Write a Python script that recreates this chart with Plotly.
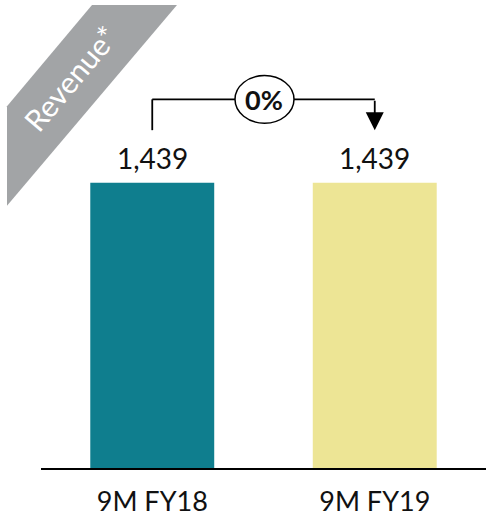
import plotly.graph_objects as go

categories = ["9M FY18", "9M FY19"]
values = [1439, 1439]
value_labels = ["1,439", "1,439"]
change_label = "0%"
badge = "Revenue*"
colors = ["#0F7E8E", "#EDE595"]

W, H = 486, 517
MB = 46
PH = H - MB  # plot height in px (top margin 0)
YMAX = values[0] * PH / 287.0

def py2v(py):
    return (PH - py) * YMAX / PH

def px2p(px):
    return px / W

def py2p(py):
    return (PH - py) / PH

fig = go.Figure()
fig.add_trace(go.Bar(x=categories, y=values, marker=dict(color=colors, line=dict(width=0)),
                     width=0.557, hoverinfo="skip"))

font = "Lato, 'Open Sans', sans-serif"
ann = []
for c, lab in zip(categories, value_labels):
    ann.append(dict(x=c, y=py2v(159), text=lab, showarrow=False, xref="x", yref="y",
                    font=dict(size=28, color="#111111", family=font)))

y_top = py2v(100)
y_bot = py2v(131)
shapes = [
    dict(type="path", xref="paper", yref="paper", layer="below",
         path="M {:.4f},{:.4f} L {:.4f},{:.4f} L {:.4f},{:.4f} L {:.4f},{:.4f} Z".format(
             px2p(92), py2p(5), px2p(177), py2p(5), px2p(7), py2p(207), px2p(7), py2p(107)),
         fillcolor="#A2A4A6", line=dict(width=0)),
    dict(type="line", xref="x", yref="y", x0=0, x1=0, y0=y_bot, y1=y_top, line=dict(color="black", width=1.8)),
    dict(type="line", xref="x", yref="y", x0=0, x1=0.38, y0=y_top, y1=y_top, line=dict(color="black", width=1.8)),
    dict(type="line", xref="x", yref="y", x0=0.62, x1=1, y0=y_top, y1=y_top, line=dict(color="black", width=1.8)),
    dict(type="circle", xref="paper", yref="paper", x0=px2p(235), x1=px2p(294), y0=py2p(124), y1=py2p(76),
         line=dict(color="black", width=1.5), fillcolor="white"),
]
ann.append(dict(x=1, y=y_bot, ax=1, ay=y_top, xref="x", yref="y", axref="x", ayref="y",
                text="", showarrow=True, arrowhead=2, arrowsize=2.0, arrowwidth=1.8, arrowcolor="black"))
ann.append(dict(x=0.5035, y=py2v(100), xref="x", yref="y", text="<b>" + change_label + "</b>", showarrow=False,
                font=dict(size=27, color="#111111", family=font)))
ann.append(dict(x=px2p(70), y=py2p(78), xref="paper", yref="paper", xanchor="center", yanchor="middle",
                text=badge, showarrow=False,
                textangle=-50, font=dict(size=30, color="white", family=font)))

fig.update_layout(
    width=W, height=H, margin=dict(l=0, r=0, t=0, b=MB),
    paper_bgcolor="white", plot_bgcolor="white", showlegend=False,
    shapes=shapes, annotations=ann,
    xaxis=dict(domain=[41 / W, 1], range=[-0.5, 1.5], showline=True, linecolor="black", linewidth=1.5,
               showgrid=False, zeroline=False, ticks="outside", ticklen=9, tickcolor="rgba(0,0,0,0)",
               tickfont=dict(size=27, color="#111111", family=font)),
    yaxis=dict(range=[0, YMAX], visible=False, showgrid=False, zeroline=False),
)
fig.write_html("out.html")
